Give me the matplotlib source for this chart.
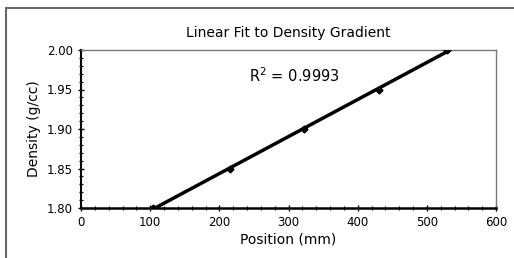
import matplotlib.pyplot as plt
from matplotlib.patches import Rectangle
from matplotlib.ticker import MultipleLocator
import numpy as np

position = [104, 215, 323, 431, 529]
density = [1.800, 1.850, 1.900, 1.950, 2.000]
r2_label = 'R$^2$ = 0.9993'

fig = plt.figure(figsize=(5.14, 2.58), dpi=100)
ax = fig.add_axes([81 / 514, 50 / 258, 415 / 514, 158 / 258])

# outer chart frame (runs off the bottom and right of the image)
fig.patches.append(Rectangle((6 / 514, -20 / 258), 540 / 514, 270 / 258,
                             transform=fig.transFigure, fill=False,
                             edgecolor='#666666', linewidth=1.5))

fit = np.polyfit(position, density, 1)
xs = np.array([position[0], position[-1]])
ax.plot(xs, np.polyval(fit, xs), color='black', linewidth=2.5, zorder=3)
ax.plot(position, density, 'D', color='black', markersize=3.5, zorder=4)

ax.set_xlim(0, 600)
ax.set_ylim(1.80, 2.00)
ax.xaxis.set_major_locator(MultipleLocator(100))
ax.xaxis.set_minor_locator(MultipleLocator(20))
ax.yaxis.set_major_locator(MultipleLocator(0.05))
ax.yaxis.set_minor_locator(MultipleLocator(0.01))
ax.yaxis.set_major_formatter(plt.FormatStrFormatter('%.2f'))
ax.tick_params(which='major', direction='inout', length=5, width=1, labelsize=8.5)
ax.tick_params(which='minor', direction='inout', length=3, width=0.8)
for s in ax.spines.values():
    s.set_linewidth(1)
ax.spines['bottom'].set_linewidth(1.8)
ax.spines['left'].set_linewidth(1.5)
ax.spines['top'].set_color('#777777')
ax.spines['right'].set_color('#777777')

ax.set_title('Linear Fit to Density Gradient', fontsize=10, pad=9)
ax.set_xlabel('Position (mm)', fontsize=10, labelpad=2)
ax.set_ylabel('Density (g/cc)', fontsize=10, labelpad=4)
ax.text(0.515, 0.84, r2_label, transform=ax.transAxes, fontsize=10.5,
        ha='center', va='center')

fig.savefig('out.png', dpi=100)
